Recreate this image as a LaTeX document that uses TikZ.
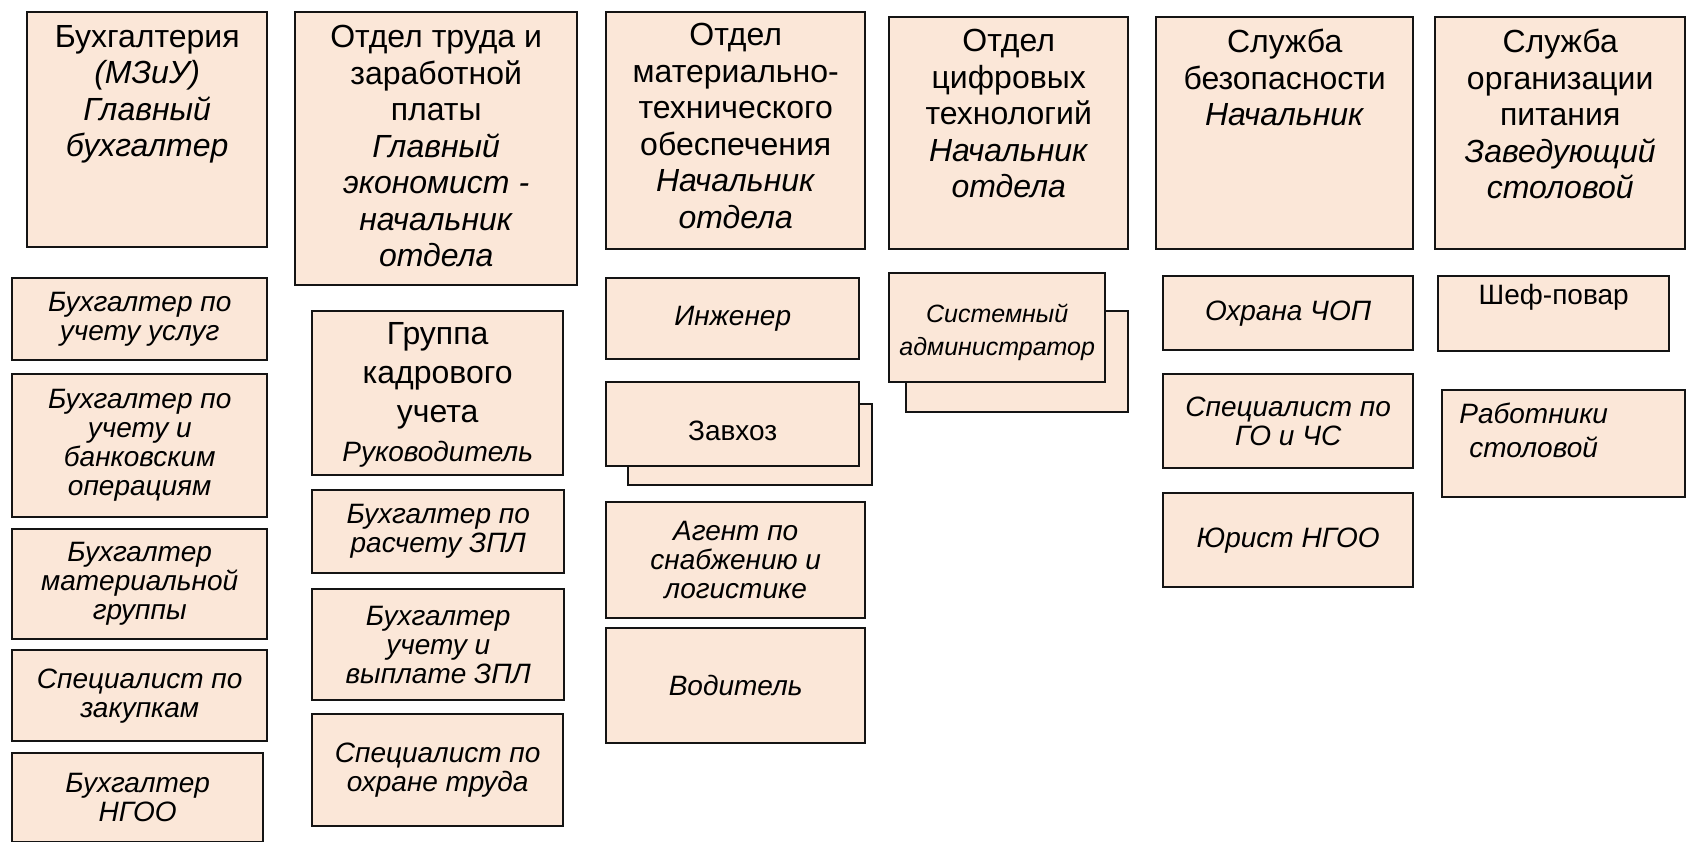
\documentclass[tikz,border=0pt]{standalone}
\usepackage{fontspec}
\setmainfont{Liberation Sans}
\usepackage{tikz}
\usetikzlibrary{positioning}
\definecolor{lightpeach}{RGB}{251,231,216}
\definecolor{darkframe}{RGB}{20,20,20}

\begin{document}
\begin{tikzpicture}[x=1pt, y=-1pt,
  unit/.style={draw=darkframe, line width=2.4pt, fill=lightpeach, rectangle, anchor=north west, inner sep=0pt},
  head/.style={align=center, inner sep=0pt, font=\fontsize{32}{36.5}\selectfont},
  staff/.style={align=center, font=\fontsize{28}{29}\selectfont\itshape}]
\useasboundingbox (0,0) rectangle (1686,842);
\fill[white] (0,0) rectangle (1686,842);

\node (buh) [unit, minimum width=240, minimum height=235] at (26,11) {};
\node (buhT) [head, below=14pt of buh.north] {Бухгалтерия\\\textit{(МЗиУ)}\\\textit{Главный}\\\textit{бухгалтер}};

\node (trud) [unit, minimum width=282, minimum height=273] at (294,11) {};
\node (trudT) [head, below=14pt of trud.north] {Отдел труда и\\заработной\\платы\\\textit{Главный}\\\textit{экономист -}\\\textit{начальник}\\\textit{отдела}};

\node (mto) [unit, minimum width=259, minimum height=237] at (605,11) {};
\node (mtoT) [head, below=12pt of mto.north] {Отдел\\материально-\\технического\\обеспечения\\\textit{Начальник}\\\textit{отдела}};

\node (cifr) [unit, minimum width=239, minimum height=232] at (888,16) {};
\node (cifrT) [head, below=13pt of cifr.north] {Отдел\\цифровых\\технологий\\\textit{Начальник}\\\textit{отдела}};

\node (bez) [unit, minimum width=257, minimum height=232] at (1155,16) {};
\node (bezT) [head, below=13pt of bez.north] {Служба\\безопасности\\\textit{Начальник}};

\node (pit) [unit, minimum width=250, minimum height=232] at (1434,16) {};
\node (pitT) [head, below=13pt of pit.north] {Служба\\организации\\питания\\\textit{Заведующий}\\\textit{столовой}};

\node (buhUsl) [unit, staff, minimum width=255, minimum height=82] at (11,277) {Бухгалтер по\\учету услуг};
\node (buhBank) [unit, staff, minimum width=255, minimum height=143] at (11,373) {Бухгалтер по\\учету и\\банковским\\операциям};
\node (buhMat) [unit, staff, minimum width=255, minimum height=110] at (11,528) {Бухгалтер\\материальной\\группы};
\node (zakup) [unit, staff, minimum width=255, minimum height=91] at (11,649) {Специалист по\\закупкам};
\node (buhNgoo) [unit, staff, minimum width=251, minimum height=89] at (11,752) {Бухгалтер\\НГОО};

\node (kadry) [unit, minimum width=251, minimum height=164] at (311,310) {};
\node (kadryT) [head, font=\fontsize{32}{39}\selectfont, below=12pt of kadry.north] {Группа\\кадрового\\учета\\{\fontsize{28}{29}\selectfont\itshape Руководитель}};
\node (zplRasch) [unit, staff, minimum width=252, minimum height=83] at (311,489) {Бухгалтер по\\расчету ЗПЛ};
\node (zplVypl) [unit, staff, minimum width=252, minimum height=111] at (311,588) {Бухгалтер\\учету и\\выплате ЗПЛ};
\node (ohrTruda) [unit, staff, minimum width=251, minimum height=112] at (311,713) {Специалист по\\охране труда};

\node (inzh) [unit, staff, minimum width=253, minimum height=81] at (605,277) {Инженер};
\node (zavhozB) [unit, minimum width=244, minimum height=81] at (627,403) {};
\node (zavhoz) [unit, minimum width=253, minimum height=84] at (605,381) {};
\node (zavhozT) [staff, inner sep=0pt, yshift=-7pt] at (zavhoz.center) {\upshape Завхоз};
\node (agent) [unit, staff, minimum width=259, minimum height=116] at (605,501) {Агент по\\снабжению и\\логистике};
\node (voditel) [unit, staff, minimum width=259, minimum height=115] at (605,627) {Водитель};

\node (sysadmB) [unit, minimum width=222, minimum height=101] at (905,310) {};
\node (sysadm) [unit, minimum width=216, minimum height=109] at (888,272) {};
\node (sysadmT) [staff, inner sep=0pt, font=\fontsize{25}{33}\selectfont\itshape, yshift=-5pt] at (sysadm.center) {Системный\\администратор};

\node (ohrana) [unit, staff, minimum width=250, minimum height=74] at (1162,275) {Охрана ЧОП};
\node (gochs) [unit, staff, minimum width=250, minimum height=94] at (1162,373) {Специалист по\\ГО и ЧС};
\node (jurist) [unit, staff, minimum width=250, minimum height=94] at (1162,492) {Юрист НГОО};

\node (shef) [unit, minimum width=231, minimum height=75] at (1437,275) {};
\node (shefT) [staff, inner sep=0pt, below=9pt of shef.north] {\upshape Шеф-повар};
\node (rabot) [unit, minimum width=243, minimum height=107] at (1441,389) {};
\node (rabotT) [staff, inner sep=0pt, font=\fontsize{28}{34}\selectfont\itshape, below=14pt of rabot.north, xshift=-30pt] {Работники\\столовой};
\end{tikzpicture}
\end{document}
